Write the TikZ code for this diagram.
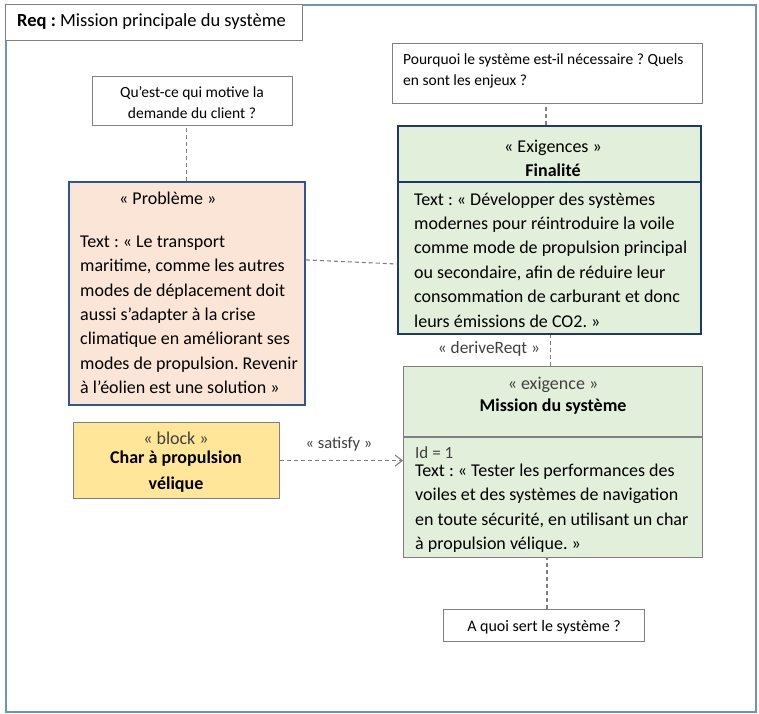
\documentclass[tikz,border=0pt]{standalone}
\usepackage{fontspec}
\setmainfont{Carlito}
\usetikzlibrary{arrows.meta}
\frenchspacing
\definecolor{frameblue}{HTML}{6F93BE}
\definecolor{boxgray}{HTML}{808080}
\definecolor{peach}{HTML}{FBE5D6}
\definecolor{probblue}{HTML}{2F5597}
\definecolor{reqgreen}{HTML}{E2EFDA}
\definecolor{navy}{HTML}{1F3864}
\definecolor{blockyellow}{HTML}{FFE699}
\definecolor{stereo}{HTML}{404040}
\definecolor{dashgray}{HTML}{7F7F7F}
\begin{document}
\frenchspacing
\begin{tikzpicture}[x=1bp,y=-1bp,
  boxbase/.style={draw, rectangle, inner sep=0pt, anchor=north west},
  qbox/.style={boxbase, draw=boxgray, fill=white, line width=1bp},
  probbox/.style={boxbase, draw=probblue, fill=peach, line width=1.8bp},
  finbox/.style={boxbase, draw=navy, fill=reqgreen, line width=2bp},
  misbox/.style={boxbase, draw=boxgray, fill=reqgreen, line width=1.2bp},
  blkbox/.style={boxbase, draw=boxgray, fill=blockyellow, line width=1.2bp},
  bodytxt/.style={inner sep=0pt, anchor=north west, align=left, font=\fontsize{18bp}{24.4bp}\selectfont},
  headtxt/.style={inner sep=0pt, anchor=base, font=\fontsize{18bp}{24.4bp}\selectfont},
  qtxt/.style={inner sep=0pt, font=\fontsize{15.5bp}{21.3bp}\selectfont},
  lbltxt/.style={inner sep=0pt, anchor=base, text=stereo},
  dashline/.style={draw=dashgray, line width=1.1bp, dash pattern=on 4bp off 3bp}
]
\useasboundingbox (0,0) rectangle (759,714);
% outer frame
\draw[frameblue, line width=2.5bp] (6,5) rectangle (756,712);
% header
\node[qbox, minimum width=297bp, minimum height=36bp] (hdr) at (5,4) {};
\node[inner sep=0pt, anchor=base west, font=\fontsize{18.5bp}{22bp}\selectfont] (hdrtxt) at (17,27) {\textbf{Req :} Mission principale du système};

% boxes
\node[qbox, minimum width=200bp, minimum height=49bp] (q1) at (92,76) {};
\node[qbox, minimum width=310bp, minimum height=60bp] (q2) at (392,43) {};
\node[finbox, minimum width=303bp, minimum height=208bp] (fin) at (397,125) {};
\node[probbox, minimum width=236bp, minimum height=223bp] (prob) at (68,181) {};
\node[misbox, minimum width=299bp, minimum height=191bp] (mis) at (403,366) {};
\node[blkbox, minimum width=206bp, minimum height=76bp] (blk) at (73,422) {};
\node[qbox, minimum width=201bp, minimum height=32bp] (q3) at (443,609) {};

% compartment dividers
\coordinate (fdiv) at (0,182);
\coordinate (mdiv) at (0,437);
\draw[navy, line width=1.5bp] (fin.west |- fdiv) -- (fin.east |- fdiv);
\draw[boxgray, line width=1.2bp] (mis.west |- mdiv) -- (mis.east |- mdiv);

% question texts
\node[qtxt, anchor=north, align=center] (q1txt) at (192,82) {\strut Qu’est-ce qui motive la\\demande du client ?};
\node[qtxt, anchor=north west, align=left] (q2txt) at (403,49.4) {\strut Pourquoi le système est-il nécessaire ? Quels\\en sont les enjeux ?};
\node[inner sep=0pt, anchor=base, font=\fontsize{16bp}{20bp}\selectfont] (q3txt) at (544,631.5) {A quoi sert le système ?};

% Finalite
\node[headtxt] (finst) at (553,152.5) {« Exigences »};
\node[headtxt, font=\fontsize{18bp}{24.4bp}\selectfont\bfseries] (finname) at (553,176) {Finalité};
\node[bodytxt] (fintxt) at (414,187.9) {\strut Text : « Développer des systèmes\\modernes pour réintroduire la voile\\comme mode de propulsion principal\\ou secondaire, afin de réduire leur\\consommation de carburant et donc\\leurs émissions de CO2. »};

% Probleme
\node[inner sep=0pt, anchor=base west, font=\fontsize{18bp}{24.4bp}\selectfont] (probst) at (119,204) {« Problème »};
\node[bodytxt] (probtxt) at (80,230) {\strut Text : « Le transport\\maritime, comme les autres\\modes de déplacement doit\\aussi s’adapter à la crise\\climatique en améliorant ses\\modes de propulsion. Revenir\\à l’éolien est une solution »};

% Mission
\node[headtxt, text=stereo] (misst) at (553,389.5) {« exigence »};
\node[headtxt, font=\fontsize{18bp}{24.4bp}\selectfont\bfseries] (misname) at (553,411) {Mission du système};
\node[inner sep=0pt, anchor=base west, text=stereo, font=\fontsize{17bp}{22bp}\selectfont] (misid) at (415,458) {Id = 1};
\node[bodytxt] (mistxt) at (415,459.3) {\strut Text : « Tester les performances des\\voiles et des systèmes de navigation\\en toute sécurité, en utilisant un char\\à propulsion vélique. »};

% Block
\node[headtxt, text=stereo] (blkst) at (176,444) {« block »};
\node[inner sep=0pt, anchor=north, align=center, font=\fontsize{18bp}{26bp}\selectfont\bfseries] (blkname) at (176,444.8) {\strut Char à propulsion\\vélique};

% connectors
\draw[dashline] (prob.north) -- (prob.north |- q1.south);
\draw[dashline] ([xshift=-3.5bp]fin.north) -- ([xshift=-3.5bp]fin.north |- q2.south);
\draw[dashline] ([yshift=33.5bp]prob.east) -- ([yshift=-34bp]fin.west);
\draw[dashline] ([xshift=-2.5bp]mis.north) -- ([xshift=-2.5bp]mis.north |- fin.south);
\draw[dashline, -{Straight Barb[length=7bp,width=11bp]}] (blk.east) -- (blk.east -| mis.west);
\draw[dashline] ([xshift=3bp]q3.north) -- ([xshift=3bp]q3.north |- mis.south);

% connector labels
\node[lbltxt, font=\fontsize{16.5bp}{20bp}\selectfont] (satlbl) at (339,448) {« satisfy »};
\node[lbltxt, font=\fontsize{17.3bp}{20bp}\selectfont] (derlbl) at (489,353) {« deriveReqt »};
\end{tikzpicture}
\end{document}
